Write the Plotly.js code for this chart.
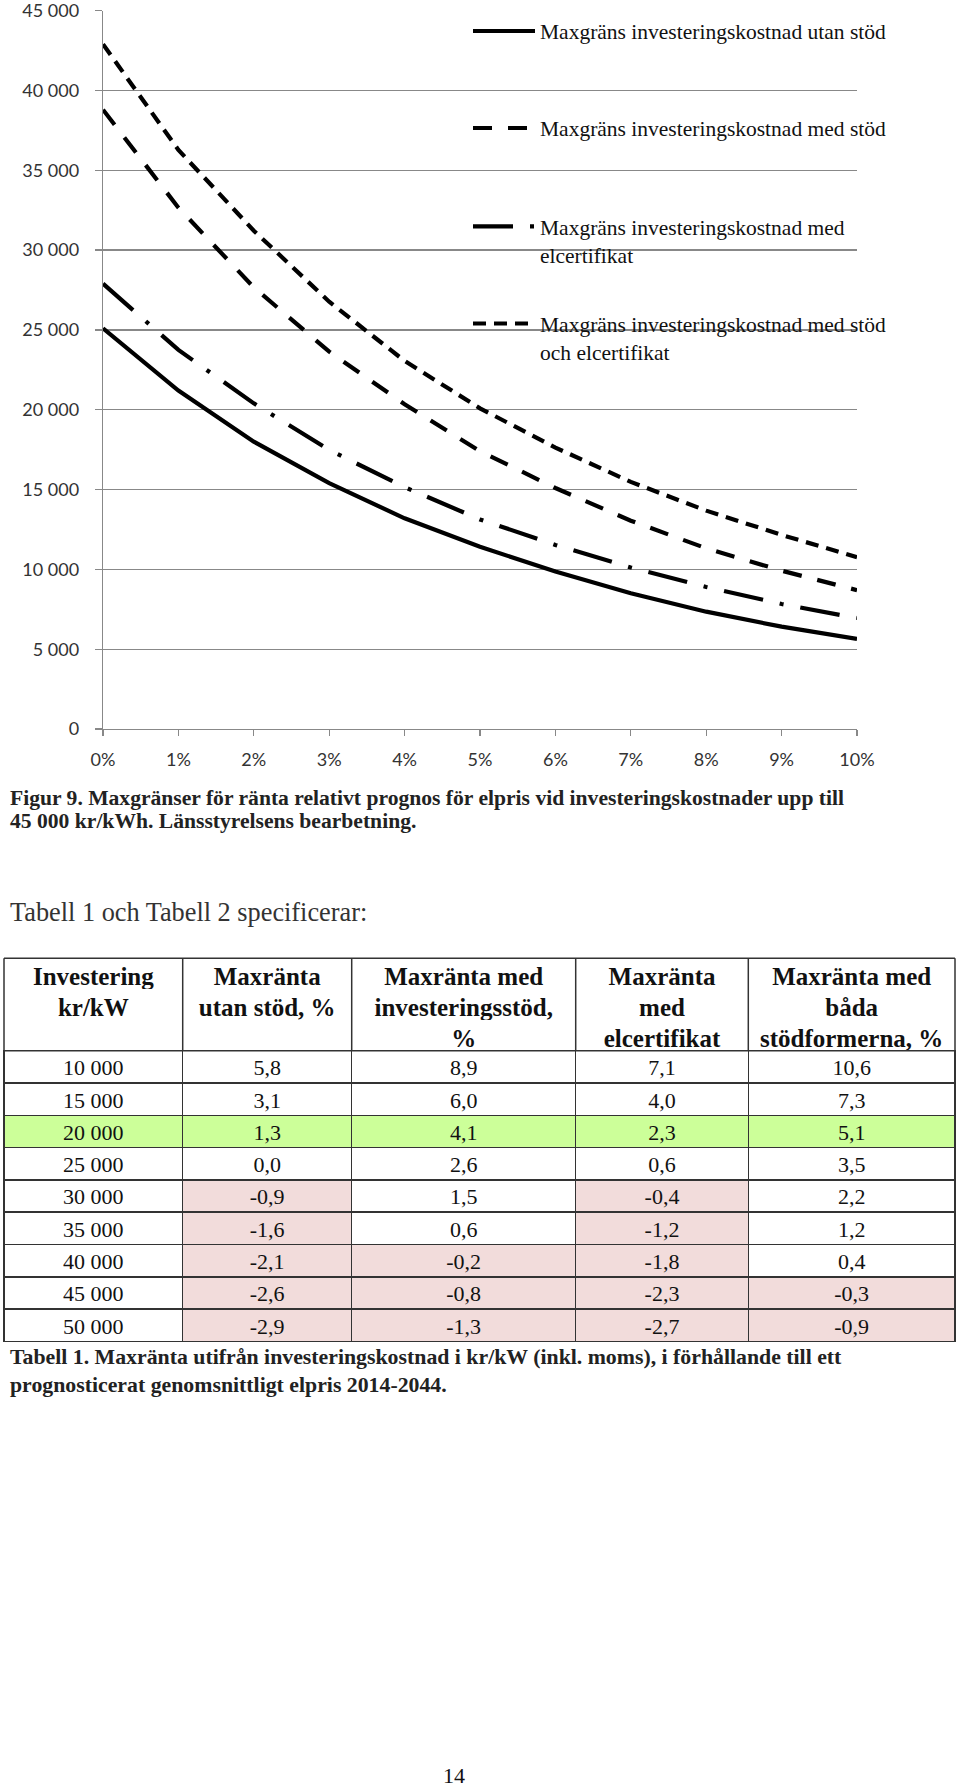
<!DOCTYPE html>
<html>
<head>
<meta charset="utf-8">
<script src="https://cdn.plot.ly/plotly-3.0.1.min.js"></script>
<style>
  html, body { margin: 0; padding: 0; background: #fff; }
  #chart { width: 960px; height: 1788px; }
</style>
</head>
<body>
<div id="chart"></div>
<script>
// ---------- Chart data (Figur 9) ----------
const rates = [0, 0.01, 0.02, 0.03, 0.04, 0.05, 0.06, 0.07, 0.08, 0.09, 0.10];
const utanStod  = [25100, 21200, 18000, 15400, 13200, 11420, 9860, 8500, 7350, 6410, 5640];
const medStod   = [38800, 32660, 27670, 23640, 20350, 17400, 15100, 13050, 11320, 9920, 8700];
const medElcert = [27900, 23750, 20400, 17480, 15150, 13130, 11530, 10120, 8900, 7830, 6950];
const medBada   = [42900, 36280, 31220, 26770, 23060, 20090, 17630, 15480, 13680, 12160, 10760];
const seriesNames = [
  'Maxgräns investeringskostnad utan stöd',
  'Maxgräns investeringskostnad med stöd',
  'Maxgräns investeringskostnad med<br>elcertifikat',
  'Maxgräns investeringskostnad med stöd<br>och elcertifikat'
];
const yTicks = [0, 5000, 10000, 15000, 20000, 25000, 30000, 35000, 40000, 45000];

// ---------- Table data (Tabell 1) ----------
const investering = [10000, 15000, 20000, 25000, 30000, 35000, 40000, 45000, 50000];
const maxUtanStod = [5.8, 3.1, 1.3, 0.0, -0.9, -1.6, -2.1, -2.6, -2.9];
const maxInvStod  = [8.9, 6.0, 4.1, 2.6, 1.5, 0.6, -0.2, -0.8, -1.3];
const maxElcert   = [7.1, 4.0, 2.3, 0.6, -0.4, -1.2, -1.8, -2.3, -2.7];
const maxBada     = [10.6, 7.3, 5.1, 3.5, 2.2, 1.2, 0.4, -0.3, -0.9];
// header text, one list of lines per column
const tableHeaders = [
  ['Investering', 'kr/kW', ''],
  ['Maxränta', 'utan stöd, %', ''],
  ['Maxränta med', 'investeringsstöd,', '%'],
  ['Maxränta', 'med', 'elcertifikat'],
  ['Maxränta med', 'båda', 'stödformerna, %']
];
const highlightRow = 20000;

// ---------- helpers ----------
const H = 1788, W = 960;
const py = (p) => 1 - p / H;   // page pixel -> paper y
const px = (p) => p / W;       // page pixel -> paper x
const NBSP = '\u00A0';
const nb = s => s.replace(/ /g, NBSP);
const fmtDec = v => v.toFixed(1).replace('.', ',');
const fmtThousand = v => String(v).replace(/\B(?=(\d{3})+(?!\d))/g, NBSP);

const GREEN = '#CCFF99', PINK = '#F2DCDB', WHITE = '#FFFFFF';
const valueCols = [maxUtanStod, maxInvStod, maxElcert, maxBada];
const fillFor = (vals, isLabel) => vals.map((v, i) =>
  investering[i] === highlightRow ? GREEN : (!isLabel && v < 0 ? PINK : WHITE));

const serif = 'Liberation Serif, Times New Roman, serif';
const dashes = ['solid', '19px,16px', '40px,17px,4px,17px', '13px,8px'];
const seriesData = [utanStod, medStod, medElcert, medBada];
const legendIds = ['legend', 'legend2', 'legend3', 'legend4'];

const traces = seriesData.map((ys, i) => ({
  type: 'scatter', mode: 'lines',
  x: rates, y: ys, name: seriesNames[i],
  legend: legendIds[i],
  line: {color: '#000', width: 4.2, dash: dashes[i]},
  hoverinfo: 'skip'
}));

// table geometry (page pixels)
const tblLeft = 4, tblRight = 955, tblTop = 958.3;
const colW = [178.7, 169, 224, 172.6, 206.7];
const headRowH = 30.8, bodyRowH = 32.3;

traces.push({
  type: 'table',
  domain: {x: [px(tblLeft), px(tblRight)], y: [0.2, py(tblTop)]},
  columnwidth: colW,
  header: {
    values: tableHeaders.map(col => col.map(nb)),
    align: 'center',
    height: headRowH,
    font: {family: serif, size: 25, color: '#111', weight: 'bold'},
    fill: {color: WHITE},
    line: {color: 'rgba(0,0,0,0)', width: 0}
  },
  cells: {
    values: [investering.map(fmtThousand)].concat(valueCols.map(c => c.map(fmtDec))),
    align: 'center',
    height: bodyRowH,
    font: {family: serif, size: 22, color: '#111'},
    fill: {color: [fillFor(investering, true)].concat(valueCols.map(c => fillFor(c, false)))},
    line: {color: '#333', width: 1.5}
  }
});

// header borders (header cells have no stroke so each header line sits in its own row)
const headBottom = tblTop + 3 * headRowH;
const borderX = [tblLeft];
colW.reduce((acc, w) => { borderX.push(acc + w); return acc + w; }, tblLeft);
const hLine = (yy) => ({
  type: 'line', xref: 'paper', yref: 'paper',
  x0: px(tblLeft), x1: px(tblRight), y0: py(yy), y1: py(yy),
  line: {color: '#333', width: 1.5}, layer: 'above'
});
const shapes = [hLine(tblTop), hLine(headBottom)].concat(borderX.map(bx => ({
  type: 'line', xref: 'paper', yref: 'paper',
  x0: px(bx), x1: px(bx), y0: py(tblTop), y1: py(headBottom),
  line: {color: '#333', width: 1.5}, layer: 'above'
})));

const legendBase = {
  xanchor: 'left', yanchor: 'middle', bgcolor: 'rgba(0,0,0,0)',
  font: {family: serif, size: 21.5, color: '#111'},
  itemwidth: 62, valign: 'top', borderwidth: 0
};
const legendY = [31, 128, 240.5, 337.5];

const layout = {
  width: W, height: H,
  margin: {l: 0, r: 0, t: 0, b: 0},
  paper_bgcolor: '#fff', plot_bgcolor: '#fff',
  separators: ', ',
  showlegend: true,
  xaxis: {
    domain: [px(103), px(857)], range: [0, 0.1],
    tickvals: rates, tickformat: '.0%',
    ticks: 'outside', ticklen: 6, tickwidth: 1.3, tickcolor: '#888',
    showline: true, linecolor: '#888', linewidth: 1.3,
    showgrid: false, zeroline: false,
    tickfont: {family: 'Lato, sans-serif', size: 18, color: '#333'},
    ticklabelstandoff: 8, ticklabeloverflow: 'allow', fixedrange: true
  },
  yaxis: {
    domain: [py(729), py(10.7)], range: [0, 45000],
    tickvals: yTicks, tickformat: ',d',
    ticks: 'outside', ticklen: 7, tickwidth: 1.3, tickcolor: '#888',
    showline: true, linecolor: '#888', linewidth: 1.3,
    showgrid: true, gridcolor: '#888', gridwidth: 1.3,
    zeroline: false,
    tickfont: {family: 'Lato, sans-serif', size: 18, color: '#333'},
    ticklabelstandoff: 12, ticklabeloverflow: 'allow', fixedrange: true
  },
  shapes: shapes,
  annotations: [
    {text: '<b>Figur 9. Maxgränser för ränta relativt prognos för elpris vid investeringskostnader upp till</b>',
     x: px(8), y: py(798), xref: 'paper', yref: 'paper', xanchor: 'left', yanchor: 'middle',
     showarrow: false, font: {family: serif, size: 21.6, color: '#222'}},
    {text: '<b>45 000 kr/kWh. Länsstyrelsens bearbetning.</b>',
     x: px(8), y: py(821), xref: 'paper', yref: 'paper', xanchor: 'left', yanchor: 'middle',
     showarrow: false, font: {family: serif, size: 21.6, color: '#222'}},
    {text: 'Tabell 1 och Tabell 2 specificerar:',
     x: px(8), y: py(912), xref: 'paper', yref: 'paper', xanchor: 'left', yanchor: 'middle',
     showarrow: false, font: {family: serif, size: 26.3, color: '#333'}},
    {text: '<b>Tabell 1. Maxränta utifrån investeringskostnad i kr/kW (inkl. moms), i förhållande till ett</b>',
     x: px(8), y: py(1356.7), xref: 'paper', yref: 'paper', xanchor: 'left', yanchor: 'middle',
     showarrow: false, font: {family: serif, size: 21.8, color: '#222'}},
    {text: '<b>prognosticerat genomsnittligt elpris 2014-2044.</b>',
     x: px(8), y: py(1385), xref: 'paper', yref: 'paper', xanchor: 'left', yanchor: 'middle',
     showarrow: false, font: {family: serif, size: 21.8, color: '#222'}},
    {text: '14',
     x: px(454), y: py(1775), xref: 'paper', yref: 'paper', xanchor: 'center', yanchor: 'middle',
     showarrow: false, font: {family: serif, size: 22, color: '#111'}}
  ]
};
legendIds.forEach((id, i) => {
  layout[id] = Object.assign({}, legendBase, {x: px(468), y: py(legendY[i])});
});

Plotly.newPlot('chart', traces, layout, {staticPlot: true, displayModeBar: false});
</script>
</body>
</html>
